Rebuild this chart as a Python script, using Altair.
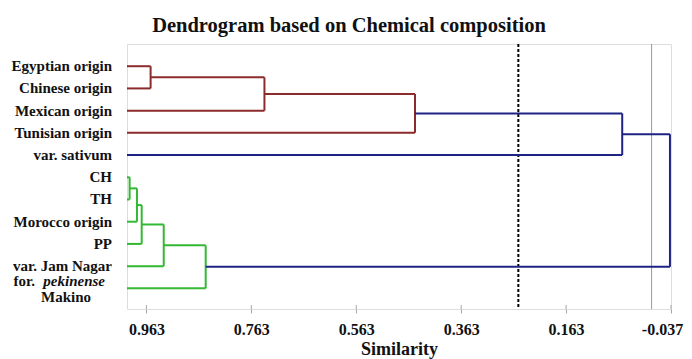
import altair as alt
import pandas as pd

# ---------------- data ----------------
leaves = ["Egyptian origin", "Chinese origin", "Mexican origin", "Tunisian origin",
          "var. sativum", "CH", "TH", "Morocco origin", "PP", "var. Jam Nagar",
          "for. pekinense Makino"]
leaf_similarity = 1.0

# merges (node ids: leaves 0..10, merges 11..20 in order)
merge_left = [0, 11, 12, 13, 5, 15, 16, 17, 18, 14]
merge_right = [1, 2, 3, 4, 6, 7, 8, 9, 10, 19]
merge_similarity = [0.955, 0.738, 0.451, 0.056, 0.995, 0.981, 0.972, 0.930, 0.850, -0.035]
merge_group = ["c1", "c1", "c1", "c0", "c2", "c2", "c2", "c2", "c2", "c0"]

tick_values = [0.963, 0.763, 0.563, 0.363, 0.163, -0.037]
cut_level = 0.254
zero_line = 0.0

group_names = ["c0", "c1", "c2"]
group_colors = ["#1F2384", "#8B2B2B", "#33B833"]

# ---------------- build segments ----------------
node_x = {i: leaf_similarity for i in range(len(leaves))}
node_y = {i: i + 1 for i in range(len(leaves))}
segs = []
for k, (a, b, s, g) in enumerate(zip(merge_left, merge_right, merge_similarity, merge_group)):
    nid = len(leaves) + k
    for c in (a, b):
        segs.append(dict(x=node_x[c], x2=s, y=node_y[c], y2=node_y[c], g=g))
    segs.append(dict(x=s, x2=s, y=node_y[a], y2=node_y[b], g=g))
    node_x[nid] = s
    node_y[nid] = (node_y[a] + node_y[b]) / 2
seg_df = pd.DataFrame(segs)

W, H = 544, 265
FONT = "Liberation Serif"

xscale = alt.Scale(domain=[1.0, -0.037], nice=False, zero=False)
yscale = alt.Scale(domain=[0, 11.93], nice=False, zero=False, reverse=True)

label_expr = ("datum.value < 0 ? '-' + format(-datum.value, '.3f') "
              ": format(datum.value, '.3f')")

lines = alt.Chart(seg_df).mark_rule(strokeWidth=2).encode(
    x=alt.X("x:Q", scale=xscale,
            axis=alt.Axis(values=tick_values, labelExpr=label_expr, title="Similarity",
                          grid=False, domain=False, tickColor="#A6A6A6", tickSize=4,
                          labelFont=FONT, labelFontSize=16, labelFontWeight="bold",
                          labelColor="#111", labelPadding=8,
                          labelOffset={"condition": {"test": "datum.value < 0", "value": -9},
                                       "value": 0},
                          titleFont=FONT, titleFontSize=18, titleFontWeight="bold",
                          titleColor="#111", titlePadding=3, labelFlush=False)),
    x2="x2:Q",
    y=alt.Y("y:Q", scale=yscale, axis=None),
    y2="y2:Q",
    color=alt.Color("g:N", scale=alt.Scale(domain=group_names, range=group_colors), legend=None),
)

inner_ticks = alt.Chart(pd.DataFrame({"t": tick_values})).mark_rule(
    color="#A6A6A6", strokeWidth=1).encode(
    x=alt.X("t:Q", scale=xscale), y=alt.value(H - 4), y2=alt.value(H))

zero_rule = alt.Chart(pd.DataFrame({"z": [zero_line]})).mark_rule(
    color="#999999", strokeWidth=1).encode(
    x=alt.X("z:Q", scale=xscale), y=alt.value(0), y2=alt.value(H))

cut_rule = alt.Chart(pd.DataFrame({"c": [cut_level]})).mark_rule(
    color="#000000", strokeWidth=2, strokeDash=[3, 2]).encode(
    x=alt.X("c:Q", scale=xscale), y=alt.value(0), y2=alt.value(H))

label_df = pd.DataFrame({"label": leaves[:-1], "pos": list(range(1, len(leaves)))})
labels = alt.Chart(label_df).mark_text(
    align="right", baseline="middle", font=FONT, fontSize=15, fontWeight="bold",
    color="#111").encode(
    x=alt.value(-15), y=alt.Y("pos:Q", scale=yscale), text="label:N")

last = leaves[-1].split(" ")
last_pos = len(leaves)
p1 = alt.Chart(pd.DataFrame({"t": [last[0]], "pos": [last_pos]})).mark_text(
    align="right", baseline="middle", font=FONT, fontSize=15, fontWeight="bold",
    color="#111", dy=-7).encode(x=alt.value(-92), y=alt.Y("pos:Q", scale=yscale), text="t:N")
p2 = alt.Chart(pd.DataFrame({"t": [last[1]], "pos": [last_pos]})).mark_text(
    align="right", baseline="middle", font=FONT, fontSize=15, fontWeight="bold",
    fontStyle="italic", color="#111", dy=-7).encode(
    x=alt.value(-22), y=alt.Y("pos:Q", scale=yscale), text="t:N")
p3 = alt.Chart(pd.DataFrame({"t": [last[2]], "pos": [last_pos]})).mark_text(
    align="center", baseline="middle", font=FONT, fontSize=15, fontWeight="bold",
    color="#111", dy=9).encode(x=alt.value(-61), y=alt.Y("pos:Q", scale=yscale), text="t:N")

chart = alt.layer(zero_rule, cut_rule, lines, inner_ticks, labels, p1, p2, p3).properties(
    width=W, height=H,
    title=alt.TitleParams("Dendrogram based on Chemical composition", font=FONT,
                          fontSize=20.5, fontWeight="bold", color="#111",
                          anchor="middle", dx=-50, offset=7),
    autosize=alt.AutoSizeParams(type="none"),
    padding={"left": 119, "top": 36, "right": 13, "bottom": 50},
).configure_view(stroke="#A6A6A6", strokeWidth=1).configure(background="white")

chart.save("out.html", embed_options={"renderer": "svg", "actions": False})
